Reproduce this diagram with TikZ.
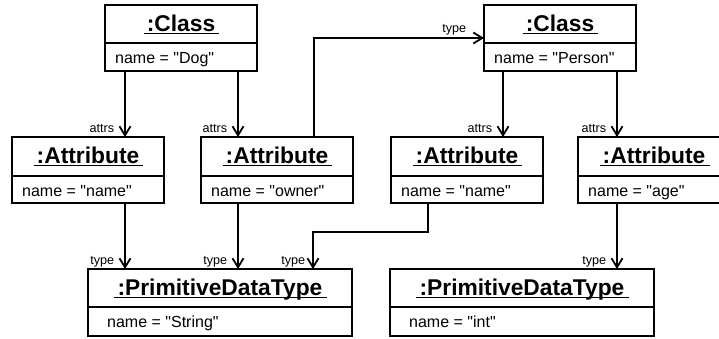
\documentclass[tikz,border=0pt]{standalone}
\usepackage{fontspec}
\setmainfont{Liberation Sans}[Ligatures=TeXOff]
\usetikzlibrary{arrows.meta}
\tikzset{
  objbox/.style={draw, line width=1.8pt, inner sep=0pt, outer sep=0pt, fill=white},
  divline/.style={line width=1.8pt},
  hdrtext/.style={anchor=base, inner sep=0pt, font=\fontsize{22.8pt}{27pt}\selectfont\bfseries},
  uline/.style={line width=1.4pt},
  nametext/.style={anchor=base west, inner sep=0pt, font=\fontsize{16pt}{19pt}\selectfont},
  lbl/.style={inner sep=0pt, font=\fontsize{12.6pt}{15pt}\selectfont},
  conn/.style={line width=1.8pt, -{Straight Barb[length=9pt,width=11pt]}},
}
% id, left, top, width, height, divider offset, header, text, indent
\newcommand\umlobj[9]{%
  \node[objbox, minimum width=#4pt, minimum height=#5pt, anchor=north west] (#1) at (#2,#3) {};
  \draw[divline] ([yshift=-#6pt]#1.north west) -- ([yshift=-#6pt]#1.north east);
  \node[hdrtext] (#1h) at ([yshift=-26pt]#1.north) {#7};
  \draw[uline] ([xshift=-3pt,yshift=-2.5pt]#1h.base west) -- ([xshift=4pt,yshift=-2.5pt]#1h.base east);
  \node[nametext] (#1n) at ([xshift=#9pt,yshift=-#6pt-20.5pt]#1.north west) {#8};
}
\begin{document}
\begin{tikzpicture}[x=1pt,y=-1pt]
\useasboundingbox[fill=white] (0,0) rectangle (719,338);
% objects
\umlobj{c1}{105}{5}{152}{66}{38}{:Class}{name = "Dog"}{10}
\umlobj{c2}{484}{5}{152}{66}{38}{:Class}{name = "Person"}{10}
\umlobj{a1}{12}{137}{152}{66}{39}{:Attribute}{name = "name"}{10}
\umlobj{a2}{201}{137}{152}{66}{39}{:Attribute}{name = "owner"}{10}
\umlobj{a3}{391}{137}{152}{66}{39}{:Attribute}{name = "name"}{10}
\umlobj{a4}{578}{137}{152}{66}{39}{:Attribute}{name = "age"}{10}
\umlobj{p1}{88}{269}{264}{67}{38}{:PrimitiveDataType}{name = "String"}{19}
\umlobj{p2}{390}{269}{264}{67}{38}{:PrimitiveDataType}{name = "int"}{19}
% connectors
\draw[conn] ([xshift=-56pt]c1.south) -- ([xshift=-56pt]c1.south |- a1.north)
  node[lbl, anchor=east, pos=1, xshift=-10pt, yshift=9pt] (l1) {attrs};
\draw[conn] ([xshift=57pt]c1.south) -- ([xshift=57pt]c1.south |- a2.north)
  node[lbl, anchor=east, pos=1, xshift=-10pt, yshift=9pt] (l2) {attrs};
\draw[conn] ([xshift=-57pt]c2.south) -- ([xshift=-57pt]c2.south |- a3.north)
  node[lbl, anchor=east, pos=1, xshift=-10pt, yshift=9pt] (l3) {attrs};
\draw[conn] ([xshift=57pt]c2.south) -- ([xshift=57pt]c2.south |- a4.north)
  node[lbl, anchor=east, pos=1, xshift=-10pt, yshift=9pt] (l4) {attrs};
\draw[conn] ([xshift=37pt]a1.south) -- ([xshift=37pt]a1.south |- p1.north)
  node[lbl, anchor=east, pos=1, xshift=-10pt, yshift=7.5pt] (l5) {type};
\draw[conn] ([xshift=-39pt]a2.south) -- ([xshift=-39pt]a2.south |- p1.north)
  node[lbl, anchor=east, pos=1, xshift=-10pt, yshift=7.5pt] (l6) {type};
\draw[conn] ([xshift=-39pt]a3.south) -- ++(0,29) -| ([xshift=93pt]p1.north)
  node[lbl, anchor=east, pos=1, xshift=-7pt, yshift=7.5pt] (l7) {type};
\draw[conn] ([xshift=-37pt]a4.south) -- ([xshift=-37pt]a4.south |- p2.north)
  node[lbl, anchor=east, pos=1, xshift=-10pt, yshift=7.5pt] (l8) {type};
\draw[conn] ([xshift=37pt]a2.north) |- (c2.west)
  node[lbl, anchor=east, pos=1, xshift=-17pt, yshift=8pt] (l9) {type};
\end{tikzpicture}
\end{document}
